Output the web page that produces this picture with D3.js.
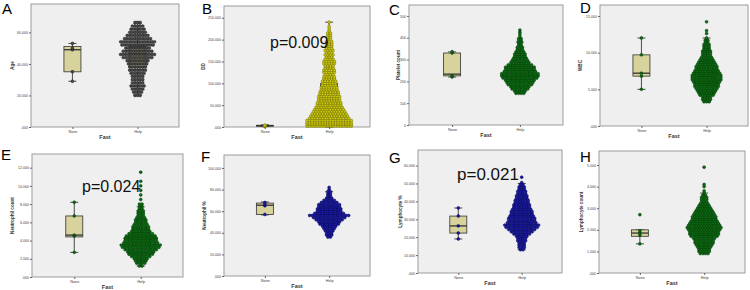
<!DOCTYPE html>
<html>
<head>
<meta charset="utf-8">
<script src="https://cdn.jsdelivr.net/npm/d3@7"></script>
<style>
  body { margin: 0; background: #fff; }
  svg text { font-family: "Liberation Sans", Arial, sans-serif; }
</style>
</head>
<body>
<svg id="chart" width="750" height="290"></svg>
<script>
// groups on the x axis
const groups = ["None", "Help"];

// A - Age
const ageTicks = [0, 20, 40, 60];
const ageNoneDots = [29, 35, 49, 50, 53];
const ageNoneBox = [29, 35, 49, 51, 53];
const ageHelpBox = [20, 38, 46.5, 51, 67];
const ageHelpRows = [[20, 3], [22, 4], [24, 5], [26, 6], [28, 5], [30, 5], [32, 5], [34, 6], [36, 7], [38, 7],
  [40, 8], [42, 9], [44, 12], [46, 14], [48, 12], [50, 10], [52, 13], [54, 14], [56, 11], [58, 9],
  [60, 7], [62, 6], [64, 5], [66, 3]];

// B - DD
const ddTicks = [0, 50, 100, 150, 200, 250];
const ddNoneDots = [1, 2, 3, 3, 4];
const ddNoneBox = [1, 2, 3, 4, 5];
const ddHelpBox = [0, 5, 30, 100, 240];
const ddHelpRows = [[2, 18], [6, 18], [10, 18], [15, 18], [20, 16], [25, 15], [30, 14], [35, 13], [40, 12], [45, 11],
  [50, 10], [55, 10], [60, 9], [65, 9], [70, 9], [75, 8], [80, 8], [85, 7], [90, 7], [95, 6],
  [100, 6], [105, 6], [110, 5], [115, 5], [120, 4], [125, 5], [130, 5], [135, 4], [140, 4], [145, 5],
  [150, 5], [155, 4], [160, 3], [165, 4], [170, 3], [175, 4], [180, 3], [185, 3], [190, 3], [195, 3],
  [200, 2], [205, 2], [210, 2], [215, 2], [220, 1], [225, 1], [230, 1], [240, 1]];

// C - Platelet count
const pltTicks = [0, 100, 200, 300, 400, 500];
const pltNoneDots = [220, 226, 330, 336];
const pltNoneBox = [220, 225, 233, 330, 335];
const pltHelpBox = [147, 205, 235, 275, 380];
const pltHelpRows = [[145, 4], [155, 5], [165, 7], [175, 8], [185, 10], [195, 11], [205, 12], [215, 14], [225, 15], [235, 15],
  [245, 13], [255, 12], [265, 12], [275, 10], [285, 8], [295, 7], [305, 6], [315, 5], [325, 5], [335, 4],
  [345, 3], [355, 3], [365, 2], [375, 2], [385, 2], [395, 2], [405, 1], [415, 1], [425, 1], [435, 1]];

// D - WBC
const wbcTicks = [0, 5, 10, 15];
const wbcNoneDots = [5.0, 6.8, 7.2, 9.7, 12.0];
const wbcNoneBox = [5.0, 6.8, 7.2, 9.7, 12.0];
const wbcHelpBox = [3.3, 5.6, 6.7, 8.2, 12];
const wbcHelpRows = [[3.3, 3], [3.6, 4], [3.9, 4], [4.2, 6], [4.5, 7], [4.8, 8], [5.1, 9], [5.4, 10], [5.7, 10], [6.0, 11],
  [6.3, 12], [6.6, 12], [6.9, 12], [7.2, 11], [7.5, 10], [7.8, 9], [8.1, 9], [8.4, 8], [8.7, 7], [9.0, 6],
  [9.3, 5], [9.6, 4], [9.9, 4], [10.2, 4], [10.5, 3], [10.8, 3], [11.1, 3], [11.4, 2], [11.7, 2], [12.0, 1],
  [12.6, 1], [13.0, 1], [14.2, 1]];

// E - Neutrophil count
const neuTicks = [0, 2, 4, 6, 8, 10, 12];
const neuNoneDots = [2.7, 4.5, 4.6, 6.7, 8.2];
const neuNoneBox = [2.7, 4.4, 4.6, 6.7, 8.2];
const neuHelpBox = [1.2, 3.0, 3.8, 4.9, 7.7];
const neuHelpRows = [[1.2, 2], [1.5, 4], [1.75, 5], [2.0, 6], [2.25, 8], [2.5, 10], [2.75, 11], [3.0, 13], [3.25, 15], [3.5, 16],
  [3.75, 14], [4.0, 13], [4.25, 13], [4.5, 12], [4.75, 10], [5.0, 8], [5.25, 7], [5.5, 7], [5.75, 6], [6.0, 5],
  [6.25, 5], [6.5, 4], [6.75, 3], [7.0, 3], [7.25, 3], [7.5, 2], [7.75, 2], [8.0, 2], [8.5, 1], [9.0, 1],
  [9.5, 1], [10.0, 1], [10.5, 1], [11.5, 1]];

// F - Neutrophil %
const neupTicks = [0, 20, 40, 60, 80, 100];
const neupNoneDots = [57, 65, 66, 68];
const neupNoneBox = [56.5, 57, 65.5, 67.5, 68.5];
const neupHelpBox = [38, 52, 57, 63, 78];
const neupHelpRows = [[36, 2], [38, 3], [40, 3], [42, 4], [44, 5], [46, 6], [48, 8], [50, 9], [52, 11], [54, 13],
  [56, 16], [58, 12], [60, 10], [62, 10], [64, 9], [66, 9], [68, 7], [70, 5], [72, 3], [74, 2],
  [76, 2], [78, 2], [80, 1], [82, 1]];

// G - Lymphocyte %
const lymTicks = [0, 10, 20, 30, 40, 50, 60];
const lymNoneDots = [19, 22.3, 26.3, 31.8, 36.3];
const lymNoneBox = [19, 22.3, 26.3, 31.8, 36.3];
const lymHelpBox = [13, 24, 28.5, 35, 50];
const lymHelpRows = [[13, 2], [14.25, 3], [15.5, 3], [16.75, 3], [18, 4], [19.25, 4], [20.5, 5], [21.75, 7], [23, 9], [24.25, 11],
  [25.5, 13], [26.75, 14], [28, 12], [29.25, 11], [30.5, 11], [31.75, 10], [33, 9], [34.25, 9], [35.5, 8], [36.75, 7],
  [38, 7], [39.25, 6], [40.5, 6], [41.75, 5], [43, 5], [44.25, 4], [45.5, 4], [46.75, 3], [48, 3], [49.25, 2],
  [50.5, 1], [53.5, 1]];

// H - Lymphocyte count
const lymcTicks = [0, 1, 2, 3, 4, 5];
const lymcNoneDots = [1.35, 1.75, 1.85, 1.95, 2.7];
const lymcNoneBox = [1.35, 1.7, 1.85, 2.0, 2.0];
const lymcHelpBox = [0.9, 1.7, 2.1, 2.5, 3.7];
const lymcHelpRows = [[0.9, 4], [1.0, 5], [1.1, 5], [1.2, 6], [1.3, 7], [1.4, 8], [1.5, 8], [1.6, 9], [1.7, 11], [1.8, 12],
  [1.9, 12], [2.0, 13], [2.1, 14], [2.2, 13], [2.3, 12], [2.4, 11], [2.5, 10], [2.6, 10], [2.7, 9], [2.8, 8],
  [2.9, 7], [3.0, 6], [3.1, 5], [3.2, 4], [3.3, 3], [3.4, 3], [3.5, 3], [3.6, 2], [3.7, 1], [3.8, 1],
  [4.0, 1], [4.1, 1], [4.9, 1]];

const fmt3 = d => d === 0 ? ".000" : d3.format(".3f")(d);

const dotStyles = {
  gray: { fill: "#4a4a4a", stroke: "#1a1a1a" },
  yellow: { fill: "#cfcc10", stroke: "#6a6600" },
  green: { fill: "#0c6a12", stroke: "#033a06" },
  navy: { fill: "#1c1ca0", stroke: "#04045a" }
};

// layout of each panel (plot rectangle and labels)
const panels = [
  { letter: "A", lx: 2, ly: 14, x0: 31, x1: 179, y0: 4, y1: 127, yMax: 78, ticks: ageTicks, fmt: fmt3, title: "Age", tdx: 17,
    noneDots: ageNoneDots, noneBox: ageNoneBox, helpBox: ageHelpBox, helpRows: ageHelpRows, color: "gray" },
  { letter: "B", lx: 202, ly: 13.5, x0: 224, x1: 370, y0: 6, y1: 127, yMax: 277, ticks: ddTicks, fmt: fmt3, title: "DD", tdx: 19,
    noneDots: ddNoneDots, noneBox: ddNoneBox, helpBox: ddHelpBox, helpRows: ddHelpRows, color: "yellow",
    p: "p=0.009", px: 270, py: 48, ps: 16 },
  { letter: "C", lx: 389, ly: 15, x0: 409, x1: 563, y0: 5, y1: 125, yMax: 550, ticks: pltTicks, fmt: d => d, title: "Platelet count", tdx: 9,
    noneDots: pltNoneDots, noneBox: pltNoneBox, helpBox: pltHelpBox, helpRows: pltHelpRows, color: "green" },
  { letter: "D", lx: 580, ly: 13, x0: 600, x1: 748, y0: 5, y1: 126, yMax: 16.5, ticks: wbcTicks, fmt: fmt3, title: "WBC", tdx: 18,
    noneDots: wbcNoneDots, noneBox: wbcNoneBox, helpBox: wbcHelpBox, helpRows: wbcHelpRows, color: "green" },
  { letter: "E", lx: 1, ly: 160, x0: 32, x1: 183, y0: 154, y1: 277, yMax: 13.5, ticks: neuTicks, fmt: fmt3, title: "Neutrophil count", tdx: 18,
    noneDots: neuNoneDots, noneBox: neuNoneBox, helpBox: neuHelpBox, helpRows: neuHelpRows, color: "green",
    p: "p=0.024", px: 82, py: 192, ps: 16 },
  { letter: "F", lx: 201, ly: 162, x0: 224, x1: 370, y0: 155, y1: 276, yMax: 112, ticks: neupTicks, fmt: fmt3, title: "Neutrophil %", tdx: 18,
    noneDots: neupNoneDots, noneBox: neupNoneBox, helpBox: neupHelpBox, helpRows: neupHelpRows, color: "navy" },
  { letter: "G", lx: 389, ly: 163, x0: 418, x1: 562, y0: 150, y1: 273, yMax: 68.7, ticks: lymTicks, fmt: fmt3, title: "Lymphocyte %", tdx: 16,
    noneDots: lymNoneDots, noneBox: lymNoneBox, helpBox: lymHelpBox, helpRows: lymHelpRows, color: "navy",
    p: "p=0.021", px: 457, py: 180, ps: 17 },
  { letter: "H", lx: 580, ly: 162, x0: 599, x1: 745, y0: 151, y1: 273, yMax: 5.65, ticks: lymcTicks, fmt: fmt3, title: "Lymphocyte count", tdx: 16,
    noneDots: lymcNoneDots, noneBox: lymcNoneBox, helpBox: lymcHelpBox, helpRows: lymcHelpRows, color: "green" }
];

const svg = d3.select("#chart");
const dotR = 1.45, dotGap = 2.6, boxW = 17, capW = 8;

function drawBox(g, cx, y, b) {
  const [mn, q1, md, q3, mx] = b;
  g.append("line").attr("x1", cx).attr("x2", cx).attr("y1", y(q3)).attr("y2", y(mx)).attr("stroke", "#222").attr("stroke-width", 0.8);
  g.append("line").attr("x1", cx).attr("x2", cx).attr("y1", y(q1)).attr("y2", y(mn)).attr("stroke", "#222").attr("stroke-width", 0.8);
  [mn, mx].forEach(v => {
    g.append("line").attr("x1", cx - capW / 2).attr("x2", cx + capW / 2).attr("y1", y(v)).attr("y2", y(v))
      .attr("stroke", "#222").attr("stroke-width", 0.8);
  });
  g.append("rect")
    .attr("x", cx - boxW / 2).attr("width", boxW)
    .attr("y", y(q3)).attr("height", Math.max(0.5, y(q1) - y(q3)))
    .attr("fill", "#d8d29c").attr("stroke", "#333").attr("stroke-width", 0.8);
  g.append("line").attr("x1", cx - boxW / 2).attr("x2", cx + boxW / 2).attr("y1", y(md)).attr("y2", y(md))
    .attr("stroke", "#333").attr("stroke-width", 1.3);
}

panels.forEach(p => {
  const g = svg.append("g");
  const x = d3.scalePoint().domain(groups).range([p.x0, p.x1]).padding(0.636);
  const y = d3.scaleLinear().domain([0, p.yMax]).range([p.y1, p.y0]);
  const st = dotStyles[p.color];

  g.append("rect")
    .attr("x", p.x0).attr("y", p.y0)
    .attr("width", p.x1 - p.x0).attr("height", p.y1 - p.y0)
    .attr("fill", "#efefef").attr("stroke", "#9c9c9c").attr("stroke-width", 1);

  // y axis
  const ya = g.append("g")
    .attr("transform", `translate(${p.x0},0)`)
    .call(d3.axisLeft(y).tickValues(p.ticks).tickFormat(p.fmt).tickSize(2).tickPadding(1));
  ya.select(".domain").remove();
  ya.selectAll("line").attr("stroke", "#666");
  ya.selectAll("text").attr("font-size", 3.6).attr("fill", "#444");

  // x axis
  const xa = g.append("g")
    .attr("transform", `translate(0,${p.y1})`)
    .call(d3.axisBottom(x).tickSize(2).tickPadding(1));
  xa.select(".domain").remove();
  xa.selectAll("line").attr("stroke", "#666");
  xa.selectAll("text").attr("font-size", 3.8).attr("fill", "#444");

  g.append("text")
    .attr("x", (p.x0 + p.x1) / 2).attr("y", p.y1 + 12)
    .attr("text-anchor", "middle").attr("font-size", 5.5).attr("font-weight", "bold").attr("fill", "#333")
    .text("Fast");

  g.append("text")
    .attr("transform", `translate(${p.x0 - p.tdx},${(p.y0 + p.y1) / 2}) rotate(-90)`)
    .attr("text-anchor", "middle").attr("font-size", 4.6).attr("font-weight", "bold").attr("fill", "#333")
    .text(p.title);

  drawBox(g, x("None"), y, p.noneBox);
  drawBox(g, x("Help"), y, p.helpBox);

  // dots of the Help group, one row per bin
  const pts = [];
  p.helpRows.forEach(([v, n]) => {
    for (let i = 0; i < n; i++) pts.push({ cx: x("Help") + (i - (n - 1) / 2) * dotGap, cy: y(v) });
  });
  p.noneDots.forEach(v => pts.push({ cx: x("None"), cy: y(v) }));

  g.selectAll("circle.dot")
    .data(pts)
    .enter().append("circle")
    .attr("class", "dot")
    .attr("cx", d => d.cx).attr("cy", d => d.cy).attr("r", dotR)
    .attr("fill", st.fill).attr("stroke", st.stroke).attr("stroke-width", 0.5);

  svg.append("text")
    .attr("x", p.lx).attr("y", p.ly)
    .attr("font-size", 15).attr("fill", "#000")
    .text(p.letter);

  if (p.p) {
    svg.append("text")
      .attr("x", p.px).attr("y", p.py)
      .attr("font-size", p.ps).attr("fill", "#111")
      .text(p.p);
  }
});
</script>
</body>
</html>
